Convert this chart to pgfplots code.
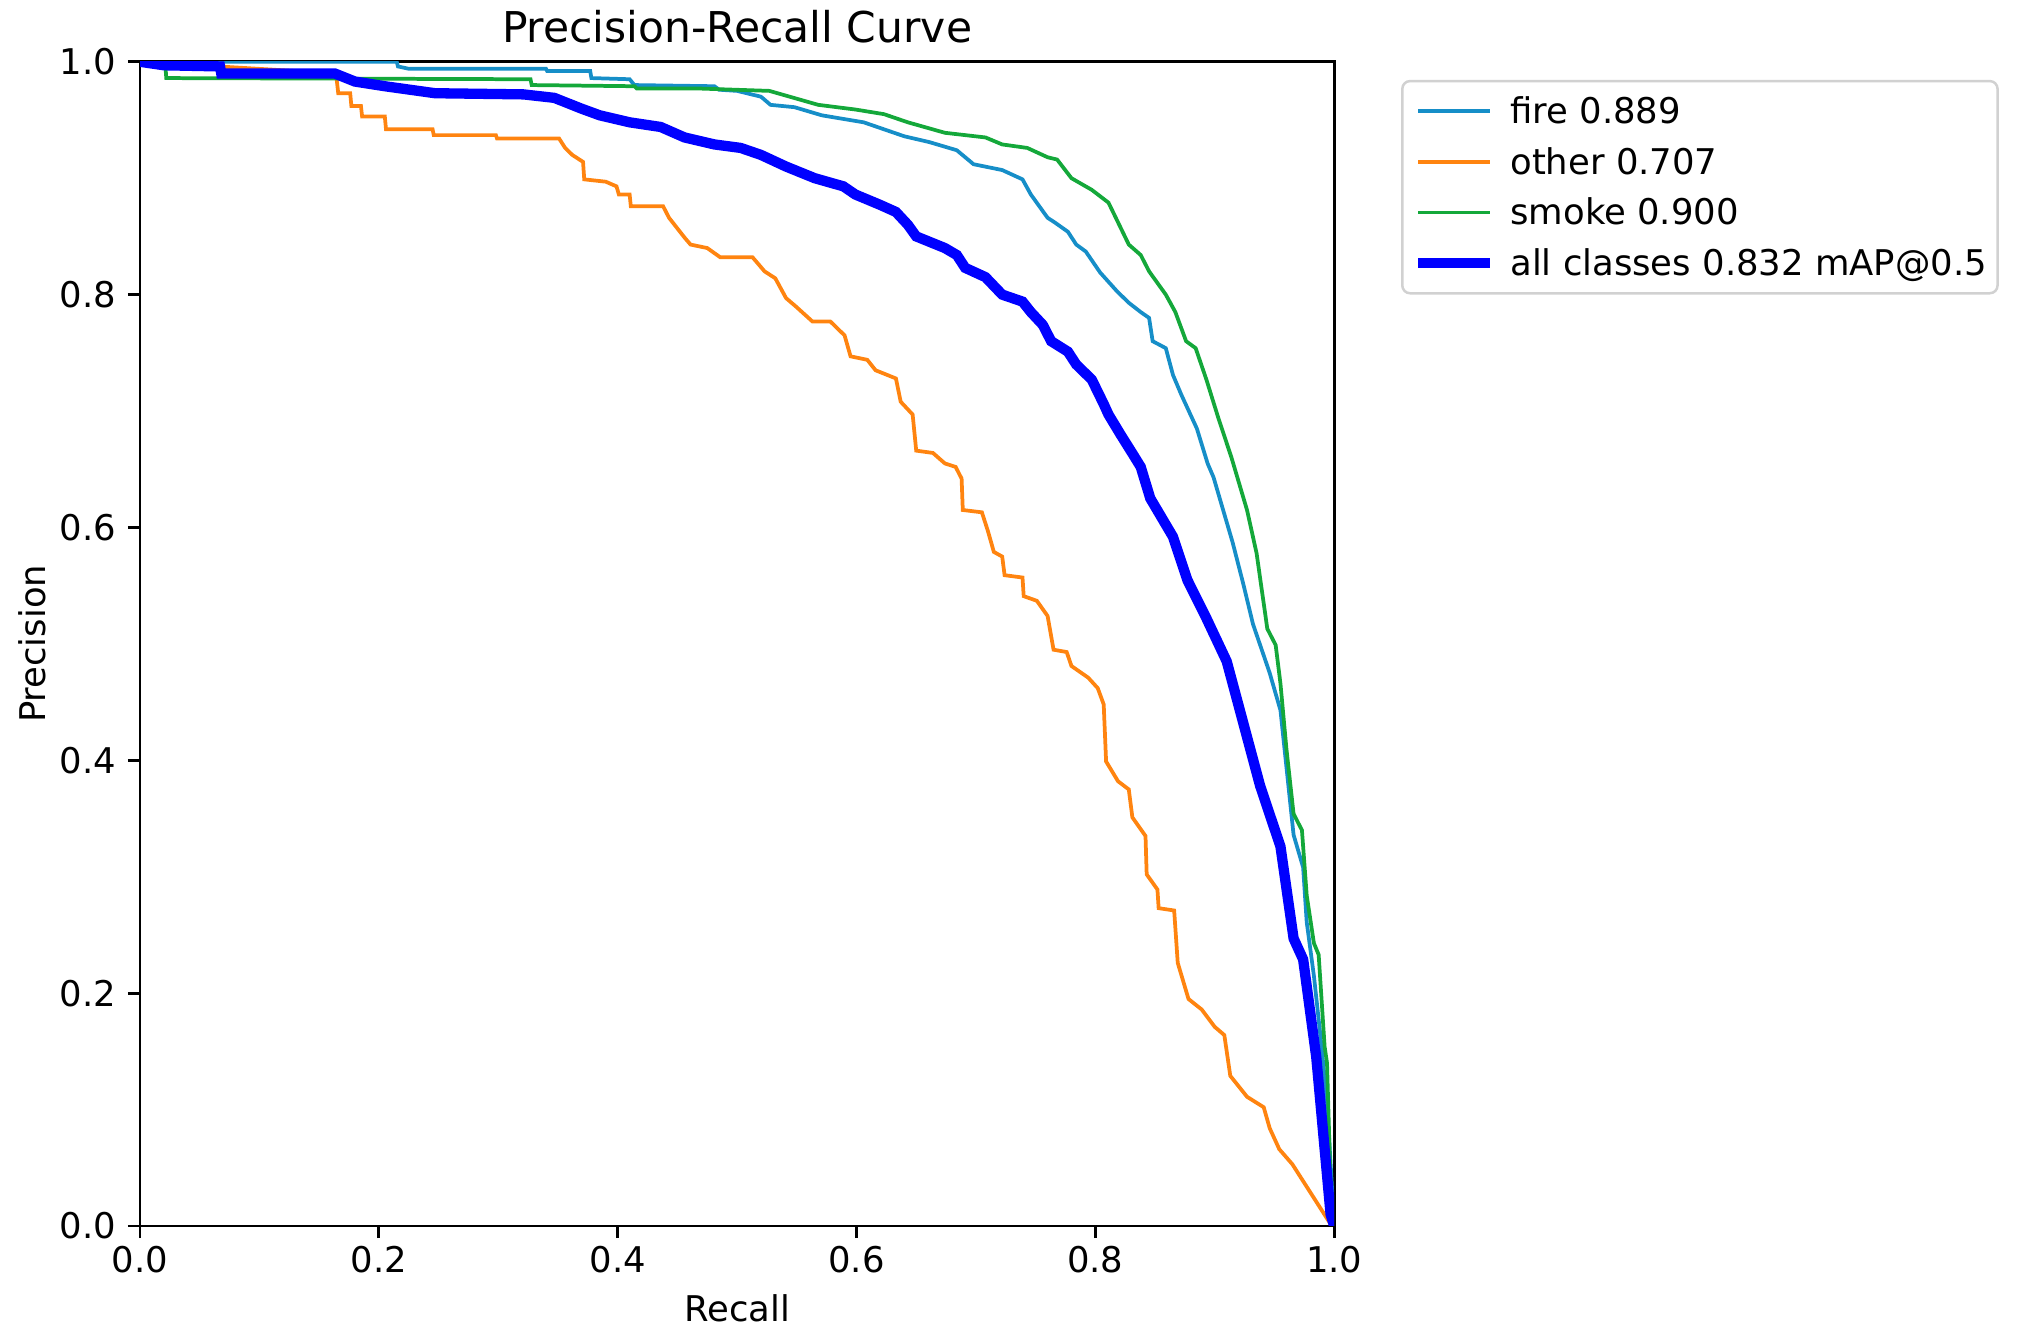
\documentclass[border=0pt]{standalone}
\usepackage{fontspec}
\setmainfont{DejaVu Sans}
\usepackage{pgfplots}
\pgfplotsset{compat=1.18}
\definecolor{cfire}{RGB}{22,142,200}
\definecolor{cother}{RGB}{255,132,16}
\definecolor{csmoke}{RGB}{20,168,58}
\definecolor{call}{RGB}{0,0,255}
\begin{document}
\begin{tikzpicture}
\useasboundingbox (0,0) rectangle (648pt,428.8pt);
\begin{axis}[
  at={(44.87pt,35.9pt)}, anchor=south west,
  width=382.7pt, height=373.1pt, scale only axis,
  xmin=0, xmax=1, ymin=0, ymax=1,
  xtick={0,0.2,0.4,0.6,0.8,1.0}, ytick={0,0.2,0.4,0.6,0.8,1.0},
  xtick pos=left, ytick pos=left,
  tick align=outside, major tick length=3.9pt,
  every tick/.style={black, line width=0.9pt},
  axis line style={black, line width=0.9pt},
  /pgf/number format/assume math mode=true,
  /pgf/number format/.cd, fixed, fixed zerofill, precision=1, /pgfplots/.cd,
  tick label style={font=\fontsize{11.35}{13.6}\selectfont},
  xticklabel style={anchor=north, yshift=0.9pt},
  yticklabel style={anchor=east, xshift=-0.3pt},
  title={Precision-Recall Curve},
  every axis title/.style={at={(axis description cs:0.5,1)}, anchor=base, yshift=6.3pt, font=\fontsize{13.6}{16}\selectfont},
  xlabel={Recall}, ylabel={Precision},
  every axis x label/.style={at={([yshift=-26.5pt]axis description cs:0.5,0)}, anchor=center, font=\fontsize{11.35}{13.6}\selectfont},
  every axis y label/.style={at={([xshift=-34.6pt]axis description cs:0,0.5)}, anchor=center, rotate=90, font=\fontsize{11.35}{13.6}\selectfont},
  legend image code/.code={\draw[#1] (0pt,0pt) -- (23pt,0pt); \path[draw=none] (0pt,0pt) -- (29.6pt,0pt);},
  legend cell align=left,
  legend style={at={(1.056,0.9845)}, anchor=north west, draw=black!18, line width=0.8pt, rounded corners=2.5pt,
    font=\fontsize{11.35}{13.6}\selectfont, inner xsep=3.4pt, inner ysep=3.6pt, row sep=4.0pt,
    nodes={inner sep=0pt, text height=10pt, text depth=2.2pt}},
]
\addplot[cfire, line width=1.2pt] table {
0 1.0
0.215 1.0
0.216 0.996
0.225 0.994
0.340 0.994
0.341 0.992
0.377 0.992
0.378 0.986
0.410 0.985
0.414 0.980
0.481 0.979
0.485 0.976
0.500 0.975
0.520 0.970
0.528 0.963
0.548 0.961
0.571 0.954
0.606 0.948
0.640 0.936
0.661 0.931
0.684 0.924
0.698 0.912
0.722 0.907
0.739 0.899
0.746 0.886
0.760 0.866
0.766 0.862
0.777 0.854
0.784 0.843
0.792 0.837
0.804 0.819
0.818 0.803
0.828 0.793
0.838 0.785
0.845 0.780
0.848 0.760
0.859 0.754
0.865 0.731
0.872 0.714
0.885 0.685
0.894 0.655
0.899 0.643
0.915 0.587
0.924 0.551
0.932 0.517
0.946 0.475
0.955 0.443
0.966 0.336
0.974 0.308
0.977 0.261
0.983 0.215
0.988 0.168
0.994 0.107
1.0 0.0
};
\addlegendentry{fire 0.889}
\addplot[cother, line width=1.2pt] table {
0 1.0
0.164 0.99
0.165 0.982
0.166 0.973
0.176 0.973
0.177 0.962
0.185 0.962
0.186 0.953
0.205 0.953
0.206 0.942
0.245 0.942
0.246 0.937
0.298 0.937
0.299 0.934
0.351 0.934
0.356 0.926
0.362 0.920
0.371 0.914
0.372 0.899
0.390 0.897
0.399 0.893
0.401 0.886
0.410 0.886
0.411 0.876
0.438 0.876
0.443 0.866
0.456 0.849
0.461 0.843
0.475 0.840
0.486 0.832
0.513 0.832
0.523 0.820
0.532 0.814
0.541 0.797
0.549 0.790
0.563 0.777
0.578 0.777
0.590 0.765
0.595 0.747
0.609 0.744
0.616 0.735
0.633 0.728
0.637 0.708
0.647 0.697
0.650 0.666
0.664 0.664
0.674 0.655
0.683 0.652
0.688 0.642
0.689 0.615
0.705 0.613
0.710 0.597
0.715 0.579
0.722 0.575
0.724 0.559
0.739 0.557
0.740 0.541
0.751 0.537
0.760 0.524
0.765 0.495
0.776 0.493
0.780 0.481
0.794 0.471
0.802 0.462
0.807 0.448
0.809 0.399
0.819 0.382
0.828 0.375
0.831 0.351
0.842 0.335
0.843 0.302
0.852 0.289
0.853 0.273
0.866 0.271
0.869 0.226
0.878 0.195
0.889 0.186
0.900 0.171
0.908 0.164
0.913 0.129
0.927 0.111
0.941 0.102
0.946 0.084
0.954 0.066
0.965 0.053
0.998 0.0
};
\addlegendentry{other 0.707}
\addplot[csmoke, line width=1.2pt] table {
0 1.0
0.021 1.0
0.022 0.986
0.327 0.985
0.328 0.980
0.414 0.979
0.416 0.977
0.469 0.977
0.527 0.975
0.568 0.963
0.599 0.959
0.623 0.955
0.643 0.948
0.674 0.939
0.708 0.935
0.722 0.929
0.743 0.926
0.760 0.918
0.768 0.916
0.780 0.900
0.797 0.890
0.811 0.879
0.828 0.843
0.838 0.834
0.845 0.820
0.859 0.800
0.867 0.785
0.876 0.760
0.884 0.754
0.893 0.727
0.903 0.694
0.914 0.660
0.927 0.615
0.935 0.578
0.944 0.513
0.951 0.499
0.955 0.466
0.960 0.410
0.966 0.354
0.973 0.340
0.977 0.284
0.983 0.243
0.987 0.233
0.992 0.154
0.994 0.140
0.998 0.0
};
\addlegendentry{smoke 0.900}
\addplot[call, line width=3.3pt] table {
0 1.0
0.02 0.997
0.067 0.996
0.068 0.99
0.163 0.99
0.180 0.983
0.205 0.979
0.247 0.973
0.321 0.972
0.347 0.969
0.369 0.960
0.385 0.954
0.410 0.948
0.436 0.944
0.456 0.935
0.481 0.929
0.503 0.926
0.520 0.920
0.541 0.910
0.565 0.900
0.589 0.893
0.599 0.886
0.620 0.877
0.633 0.871
0.643 0.860
0.650 0.850
0.674 0.840
0.684 0.834
0.691 0.823
0.708 0.815
0.722 0.800
0.739 0.794
0.746 0.785
0.756 0.774
0.763 0.760
0.777 0.751
0.784 0.740
0.797 0.727
0.807 0.706
0.811 0.697
0.821 0.680
0.832 0.662
0.838 0.652
0.846 0.625
0.865 0.592
0.877 0.555
0.893 0.522
0.910 0.485
0.921 0.443
0.938 0.378
0.955 0.326
0.966 0.247
0.974 0.229
0.985 0.145
0.997 0.01
1.0 0.0
};
\addlegendentry{all classes 0.832 mAP@0.5}
\end{axis}
\end{tikzpicture}
\end{document}
